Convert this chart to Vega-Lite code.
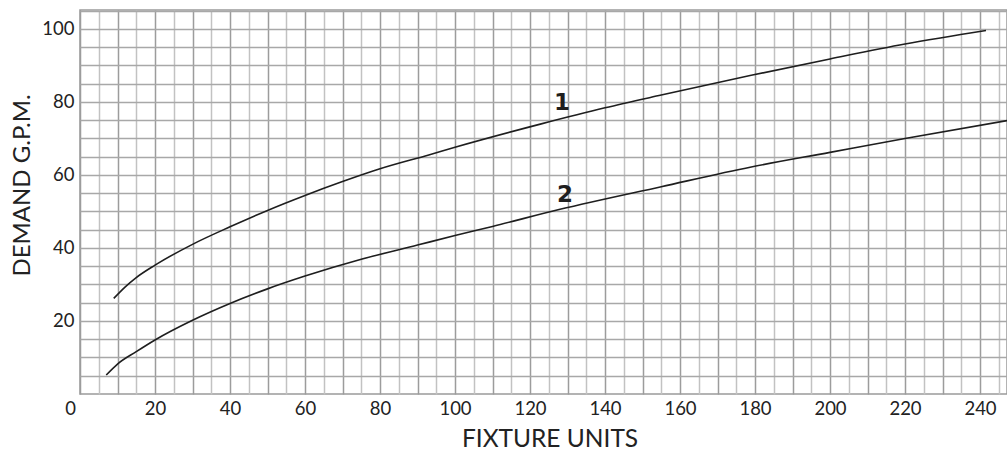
{
  "$schema": "https://vega.github.io/schema/vega-lite/v6.json",
  "autosize": {"type": "none"},
  "padding": {"left": 80, "top": 10, "right": 0, "bottom": 59},
  "width": 927,
  "height": 384,
  "background": "white",
  "config": {
    "view": {"stroke": "#9a9a9a", "strokeWidth": 1.5},
    "font": "Lato"
  },
  "datasets": {
    "curves": [
      {"fu": 9, "gpm": 26.2, "curve": "1"},
      {"fu": 12, "gpm": 29.3, "curve": "1"},
      {"fu": 15, "gpm": 31.9, "curve": "1"},
      {"fu": 20, "gpm": 35.3, "curve": "1"},
      {"fu": 30, "gpm": 41.0, "curve": "1"},
      {"fu": 40, "gpm": 45.8, "curve": "1"},
      {"fu": 50, "gpm": 50.3, "curve": "1"},
      {"fu": 60, "gpm": 54.4, "curve": "1"},
      {"fu": 70, "gpm": 58.2, "curve": "1"},
      {"fu": 80, "gpm": 61.7, "curve": "1"},
      {"fu": 93, "gpm": 65.5, "curve": "1"},
      {"fu": 100, "gpm": 67.6, "curve": "1"},
      {"fu": 123, "gpm": 74.0, "curve": "1"},
      {"fu": 140, "gpm": 78.4, "curve": "1"},
      {"fu": 155, "gpm": 81.9, "curve": "1"},
      {"fu": 179, "gpm": 87.3, "curve": "1"},
      {"fu": 200, "gpm": 91.8, "curve": "1"},
      {"fu": 220, "gpm": 95.9, "curve": "1"},
      {"fu": 241.6, "gpm": 99.6, "curve": "1"},
      {"fu": 7, "gpm": 5.2, "curve": "2"},
      {"fu": 10, "gpm": 8.2, "curve": "2"},
      {"fu": 15, "gpm": 11.6, "curve": "2"},
      {"fu": 20, "gpm": 14.8, "curve": "2"},
      {"fu": 30, "gpm": 20.2, "curve": "2"},
      {"fu": 40, "gpm": 24.8, "curve": "2"},
      {"fu": 50, "gpm": 28.8, "curve": "2"},
      {"fu": 60, "gpm": 32.3, "curve": "2"},
      {"fu": 75, "gpm": 36.9, "curve": "2"},
      {"fu": 90, "gpm": 40.8, "curve": "2"},
      {"fu": 100, "gpm": 43.4, "curve": "2"},
      {"fu": 110, "gpm": 45.9, "curve": "2"},
      {"fu": 128, "gpm": 50.6, "curve": "2"},
      {"fu": 155, "gpm": 56.8, "curve": "2"},
      {"fu": 179, "gpm": 62.2, "curve": "2"},
      {"fu": 200, "gpm": 66.2, "curve": "2"},
      {"fu": 220, "gpm": 70.0, "curve": "2"},
      {"fu": 247.2, "gpm": 74.9, "curve": "2"}
    ],
    "labels": [
      {"fu": 128.5, "gpm": 79.8, "text": "1"},
      {"fu": 129.3, "gpm": 54.6, "text": "2"}
    ]
  },
  "encoding": {
    "x": {
      "field": "fu", "type": "quantitative",
      "scale": {"domain": [0, 247.2], "nice": false, "zero": false},
      "axis": {
        "values": [0,5,10,15,20,25,30,35,40,45,50,55,60,65,70,75,80,85,90,95,100,105,110,115,120,125,130,135,140,145,150,155,160,165,170,175,180,185,190,195,200,205,210,215,220,225,230,235,240,245],
        "labelExpr": "datum.value % 20 === 0 ? datum.label : ''",
        "labelOverlap": false,
        "labelBound": false,
        "labelFlush": false,
        "labelOffset": {"condition": {"test": "datum.value === 0", "value": -10}, "value": 0},
        "grid": true,
        "gridColor": {"condition": {"test": "datum.value % 10 === 0", "value": "#9c9c9c"}, "value": "#c2c2c2"},
        "gridWidth": 1.5,
        "ticks": false,
        "domain": false,
        "labelFontSize": 18.5,
        "labelColor": "#222",
        "labelPadding": 5,
        "labelFont": "Lato",
        "title": "FIXTURE UNITS",
        "titleFontSize": 24.5,
        "titleFontWeight": "normal",
        "titleColor": "#222",
        "titlePadding": 10,
        "titleX": 469.5,
        "titleFont": "Lato"
      }
    },
    "y": {
      "field": "gpm", "type": "quantitative",
      "scale": {"domain": [0, 105.2], "nice": false},
      "axis": {
        "values": [5,10,15,20,25,30,35,40,45,50,55,60,65,70,75,80,85,90,95,100,105],
        "labelExpr": "datum.value % 20 === 0 ? datum.label : ''",
        "labelOverlap": false,
        "labelBound": false,
        "labelFlush": false,
        "grid": true,
        "gridColor": "#a8a8a8",
        "gridWidth": 1.5,
        "ticks": false,
        "domain": false,
        "labelFontSize": 18.5,
        "labelColor": "#222",
        "labelPadding": 6,
        "labelFont": "Lato",
        "title": "DEMAND G.P.M.",
        "titleFontSize": 24,
        "titleFontWeight": "normal",
        "titleColor": "#222",
        "titlePadding": 7,
        "titleY": 175,
        "titleFont": "Lato"
      }
    }
  },
  "layer": [
    {
      "data": {"name": "curves"},
      "mark": {"type": "line", "interpolate": "monotone", "color": "#1e1e1e", "strokeWidth": 1.6, "clip": true},
      "encoding": {
        "detail": {"field": "curve", "type": "nominal"}
      }
    },
    {
      "data": {"name": "labels"},
      "mark": {"type": "text", "font": "DejaVu Sans", "fontWeight": "bold", "fontSize": 23, "color": "#1e1e1e", "align": "center", "baseline": "middle"},
      "encoding": {
        "text": {"field": "text", "type": "nominal"}
      }
    }
  ]
}
